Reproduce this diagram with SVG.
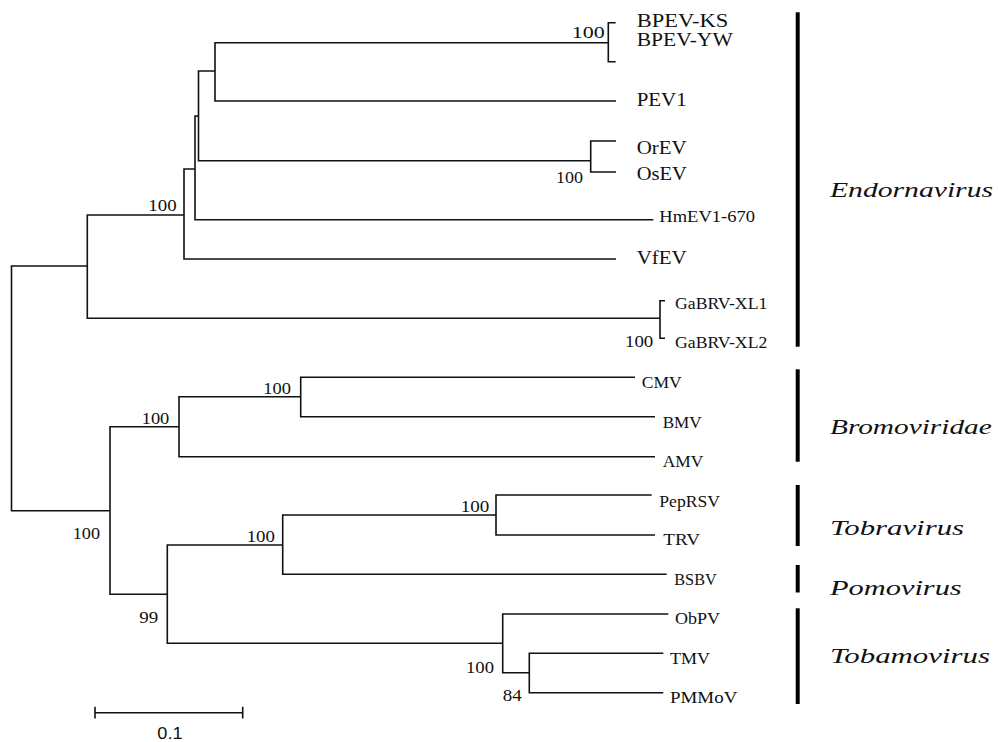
<svg xmlns="http://www.w3.org/2000/svg" width="998" height="742" viewBox="0 0 998 742">
<style>
.br{fill:none;stroke:#111;stroke-width:1.6;stroke-linejoin:miter}
.lab{font-family:"Liberation Serif","Times New Roman",serif;font-size:18px;fill:#111}
.sm{font-size:17px}
.bs{font-family:"Liberation Serif","Times New Roman",serif;font-size:17px;fill:#111}
.clade{font-family:"Liberation Serif","Times New Roman",serif;font-size:22px;font-style:italic;fill:#111}
.bar{fill:#000}
.sc{font-family:"Liberation Sans",Arial,sans-serif;font-size:17px;fill:#111}
</style>
<rect width="998" height="742" fill="#fff"/>
<g id="connectors">
<path class="br" d="M87.3,266 H11.5 V510.7 H110"/>
<path class="br" d="M184,215 H87.3 V318.3 H660"/>
<path class="br" d="M665,300.7 H660 V338.3 H665"/>
<path class="br" d="M195,169 H184 V259 H616"/>
<path class="br" d="M198.5,116 H195 V219.7 H653.3"/>
<path class="br" d="M215,71 H198.5 V160.7 H590.7"/>
<path class="br" d="M616,141 H590.7 V172 H616"/>
<path class="br" d="M608.3,42.7 H215 V101 H616"/>
<path class="br" d="M615.7,22.7 H608.3 V61.7 H615.7"/>
<path class="br" d="M179,426.7 H110 V594.3 H167.3"/>
<path class="br" d="M300.7,396.7 H179 V456.7 H655"/>
<path class="br" d="M635,377.3 H300.7 V416.7 H655"/>
<path class="br" d="M282.7,545 H167.3 V643.3 H502.7"/>
<path class="br" d="M496,515 H282.7 V574.3 H666.7"/>
<path class="br" d="M651.7,495 H496 V535 H655"/>
<path class="br" d="M668.3,614 H502.7 V672.7 H529.3"/>
<path class="br" d="M663.3,653.3 H529.3 V692.7 H663.3"/>
</g>
<g id="bootstrap">
<text class="bs" x="571.7" y="37.7" textLength="33" lengthAdjust="spacingAndGlyphs">100</text>
<text class="bs" x="556" y="182.7" textLength="27" lengthAdjust="spacingAndGlyphs">100</text>
<text class="bs" x="148.3" y="210.7" textLength="28.3" lengthAdjust="spacingAndGlyphs">100</text>
<text class="bs" x="625" y="346.7" textLength="28.3" lengthAdjust="spacingAndGlyphs">100</text>
<text class="bs" x="263.3" y="394" textLength="27.7" lengthAdjust="spacingAndGlyphs">100</text>
<text class="bs" x="141.7" y="424" textLength="27.6" lengthAdjust="spacingAndGlyphs">100</text>
<text class="bs" x="460.7" y="511.7" textLength="28.6" lengthAdjust="spacingAndGlyphs">100</text>
<text class="bs" x="246.7" y="542.3" textLength="28.3" lengthAdjust="spacingAndGlyphs">100</text>
<text class="bs" x="72.7" y="539.3" textLength="27.3" lengthAdjust="spacingAndGlyphs">100</text>
<text class="bs" x="139.3" y="623.3" textLength="19" lengthAdjust="spacingAndGlyphs">99</text>
<text class="bs" x="466" y="672.7" textLength="28" lengthAdjust="spacingAndGlyphs">100</text>
<text class="bs" x="502.7" y="700.7" textLength="19" lengthAdjust="spacingAndGlyphs">84</text>
</g>
<g id="BPEV-KS"><text class="lab" x="636.7" y="26.7" textLength="91.6" lengthAdjust="spacingAndGlyphs">BPEV-KS</text></g>
<g id="BPEV-YW"><text class="lab" x="636.7" y="45.7" textLength="96" lengthAdjust="spacingAndGlyphs">BPEV-YW</text></g>
<g id="PEV1"><text class="lab" x="636.7" y="106" textLength="50" lengthAdjust="spacingAndGlyphs">PEV1</text></g>
<g id="OrEV"><text class="lab" x="636.7" y="154" textLength="50" lengthAdjust="spacingAndGlyphs">OrEV</text></g>
<g id="OsEV"><text class="lab" x="636.7" y="180" textLength="50" lengthAdjust="spacingAndGlyphs">OsEV</text></g>
<g id="HmEV1-670"><text class="lab sm" x="659.3" y="221.7" textLength="95.7" lengthAdjust="spacingAndGlyphs">HmEV1-670</text></g>
<g id="VfEV"><text class="lab" x="636.7" y="264" textLength="50" lengthAdjust="spacingAndGlyphs">VfEV</text></g>
<g id="GaBRV-XL1"><text class="lab sm" x="675" y="309.3" textLength="92.3" lengthAdjust="spacingAndGlyphs">GaBRV-XL1</text></g>
<g id="GaBRV-XL2"><text class="lab sm" x="675" y="348.3" textLength="92.3" lengthAdjust="spacingAndGlyphs">GaBRV-XL2</text></g>
<g id="CMV"><text class="lab sm" x="641.7" y="388.3" textLength="40" lengthAdjust="spacingAndGlyphs">CMV</text></g>
<g id="BMV"><text class="lab sm" x="662.7" y="427.7" textLength="39" lengthAdjust="spacingAndGlyphs">BMV</text></g>
<g id="AMV"><text class="lab sm" x="662.7" y="466.7" textLength="40.6" lengthAdjust="spacingAndGlyphs">AMV</text></g>
<g id="PepRSV"><text class="lab sm" x="659.3" y="506.7" textLength="60.7" lengthAdjust="spacingAndGlyphs">PepRSV</text></g>
<g id="TRV"><text class="lab sm" x="663.3" y="545" textLength="36.7" lengthAdjust="spacingAndGlyphs">TRV</text></g>
<g id="BSBV"><text class="lab sm" x="674.3" y="585" textLength="42.4" lengthAdjust="spacingAndGlyphs">BSBV</text></g>
<g id="ObPV"><text class="lab sm" x="675" y="624" textLength="45" lengthAdjust="spacingAndGlyphs">ObPV</text></g>
<g id="TMV"><text class="lab sm" x="670" y="664" textLength="40" lengthAdjust="spacingAndGlyphs">TMV</text></g>
<g id="PMMoV"><text class="lab sm" x="670" y="702.7" textLength="67.3" lengthAdjust="spacingAndGlyphs">PMMoV</text></g>
<g id="clade-Endornavirus">
<rect class="bar" x="795.7" y="12.3" width="4" height="334.4"/>
<text class="clade" x="830" y="197" textLength="163" lengthAdjust="spacingAndGlyphs">Endornavirus</text>
</g>
<g id="clade-Bromoviridae">
<rect class="bar" x="795.7" y="369.3" width="4" height="92.4"/>
<text class="clade" x="830" y="433.5" textLength="161.7" lengthAdjust="spacingAndGlyphs">Bromoviridae</text>
</g>
<g id="clade-Tobravirus">
<rect class="bar" x="795.7" y="485" width="4" height="61"/>
<text class="clade" x="830" y="535" textLength="134" lengthAdjust="spacingAndGlyphs">Tobravirus</text>
</g>
<g id="clade-Pomovirus">
<rect class="bar" x="795.7" y="565" width="4" height="27.5"/>
<text class="clade" x="830" y="595" textLength="131.7" lengthAdjust="spacingAndGlyphs">Pomovirus</text>
</g>
<g id="clade-Tobamovirus">
<rect class="bar" x="795.7" y="608.3" width="4" height="95.7"/>
<text class="clade" x="830" y="663.3" textLength="160" lengthAdjust="spacingAndGlyphs">Tobamovirus</text>
</g>
<g id="scale-bar">
<path class="br" d="M95,712.7 H242.7 M95,706.7 V718.5 M242.7,706.7 V718.5"/>
<text class="sc" x="157.3" y="739.3" textLength="25.3" lengthAdjust="spacingAndGlyphs">0.1</text>
</g>
</svg>
